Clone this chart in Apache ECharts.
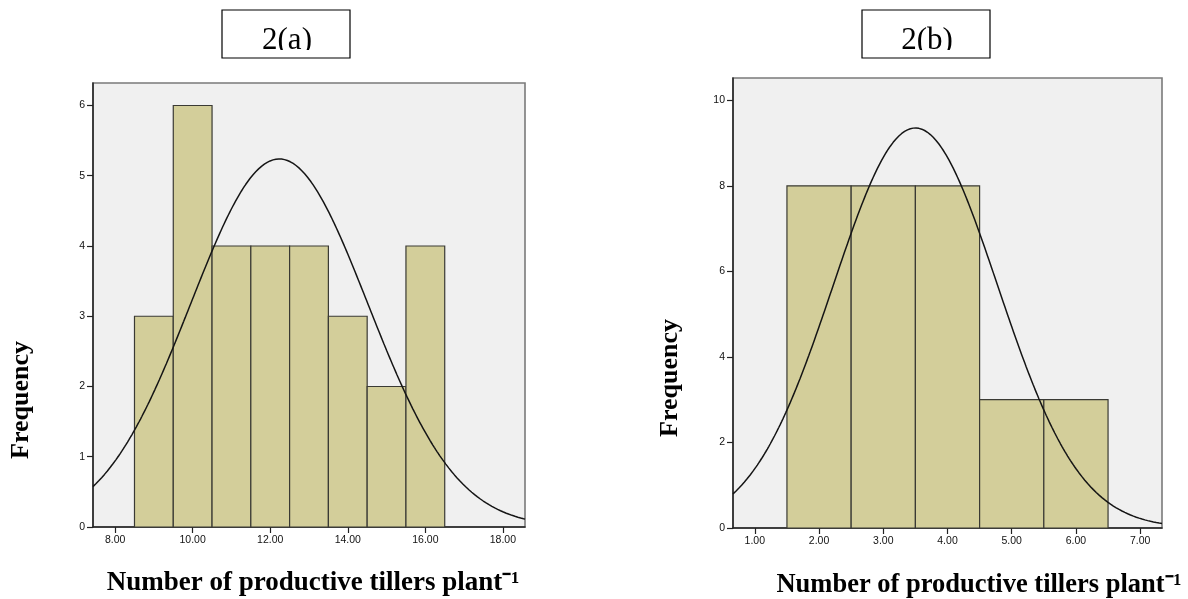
<!DOCTYPE html>
<html>
<head>
<meta charset="utf-8">
<script src="https://cdn.jsdelivr.net/npm/echarts@6/dist/echarts.min.js"></script>
<style>
  html, body { margin: 0; padding: 0; background: #ffffff; }
  #chart { width: 1188px; height: 599px; }
</style>
</head>
<body>
<div id="chart"></div>
<script>
// Histogram bins (centre of each unit-wide bin) and their frequencies
const binCentersA = [9, 10, 11, 12, 13, 14, 15, 16];
const countsA = [3, 6, 4, 4, 4, 3, 2, 4];
const binCentersB = [2, 3, 4, 5, 6];
const countsB = [8, 8, 8, 3, 3];
const binWidth = 1;

// Axis tick labels
const xTicksA = [8, 10, 12, 14, 16, 18];
const yTicksA = [0, 1, 2, 3, 4, 5, 6];
const xTicksB = [1, 2, 3, 4, 5, 6, 7];
const yTicksB = [0, 2, 4, 6, 8, 10];

// Panel captions and axis titles
const panelTitles = ['2(a)', '2(b)'];
const xTitle = 'Number of productive tillers plant\u207B\u00B9';
const yTitle = 'Frequency';

// Mean / SD / N of the binned data, used for the fitted normal curve
function stats(centers, counts) {
  let n = 0, s = 0;
  centers.forEach((c, i) => { n += counts[i]; s += c * counts[i]; });
  const mean = s / n;
  let ss = 0;
  centers.forEach((c, i) => { ss += counts[i] * (c - mean) * (c - mean); });
  return { n: n, mean: mean, sd: Math.sqrt(ss / (n - 1)) };
}
function normalCurve(st, lo, hi, steps) {
  const pts = [];
  for (let k = 0; k <= steps; k++) {
    const x = lo + (hi - lo) * k / steps;
    const z = (x - st.mean) / st.sd;
    const y = st.n * binWidth * Math.exp(-0.5 * z * z) / (st.sd * Math.sqrt(2 * Math.PI));
    pts.push([x, y]);
  }
  return pts;
}

const rangeA = [7.43, 18.57];
const rangeB = [0.66, 7.34];
const curveA = normalCurve(stats(binCentersA, countsA), rangeA[0], rangeA[1], 300);
const curveB = normalCurve(stats(binCentersB, countsB), rangeB[0], rangeB[1], 300);

const barFill = '#d3ce9a';
const barStroke = '#3a3a34';
const tickFont = { fontFamily: 'Liberation Sans, Arial, sans-serif', fontSize: 10.5, color: '#111' };

function histSeries(idx, centers, counts) {
  return {
    type: 'custom',
    xAxisIndex: idx,
    yAxisIndex: idx,
    data: centers.map((c, i) => [c - binWidth / 2, c + binWidth / 2, counts[i]]),
    renderItem: function (params, api) {
      const p0 = api.coord([api.value(0), api.value(2)]);
      const p1 = api.coord([api.value(1), 0]);
      return {
        type: 'rect',
        shape: { x: p0[0], y: p0[1], width: p1[0] - p0[0], height: p1[1] - p0[1] },
        style: { fill: barFill, stroke: barStroke, lineWidth: 1.2 }
      };
    },
    z: 2
  };
}

function xAxisCfg(idx, range, ticks) {
  return {
    type: 'value', gridIndex: idx, min: range[0], max: range[1],
    splitLine: { show: false },
    axisLine: { show: true, onZero: false, lineStyle: { color: '#222', width: 1.5 } },
    axisTick: { show: true, length: 6, customValues: ticks, lineStyle: { color: '#222', width: 1.2 } },
    axisLabel: Object.assign({ customValues: ticks, margin: 8, formatter: v => v.toFixed(2) }, tickFont)
  };
}
function yAxisCfg(idx, max, ticks) {
  return {
    type: 'value', gridIndex: idx, min: 0, max: max,
    splitLine: { show: false },
    axisLine: { show: true, onZero: false, lineStyle: { color: '#222', width: 1.5 } },
    axisTick: { show: true, length: 6, customValues: ticks, lineStyle: { color: '#222', width: 1.2 } },
    axisLabel: Object.assign({ customValues: ticks, margin: 8, formatter: v => String(v) }, tickFont)
  };
}

// Caption box; a white strip masks the caption just under its baseline
function titleBox(x, label) {
  return [
    { type: 'rect', shape: { x: x, y: 10, width: 128, height: 48 }, style: { fill: '#ffffff' }, z: 10 },
    { type: 'text', x: x + 65, y: 25.5, style: { text: label, font: '31px "Liberation Serif", "Times New Roman", serif', fill: '#000', align: 'center', verticalAlign: 'top' }, z: 11 },
    { type: 'rect', shape: { x: x + 1, y: 50, width: 126, height: 15 }, style: { fill: '#ffffff' }, z: 12 },
    { type: 'rect', shape: { x: x, y: 10, width: 128, height: 48 }, style: { fill: 'none', stroke: '#000', lineWidth: 1.2 }, z: 13 }
  ];
}
const serifBold = 'bold 26px "Liberation Serif", "Times New Roman", serif';
const serifBoldX = 'bold 27px "Liberation Serif", "Times New Roman", serif';
const serifBoldXb = 'bold 26.5px "Liberation Serif", "Times New Roman", serif';

const chart = echarts.init(document.getElementById('chart'), null, { renderer: 'canvas' });
chart.setOption({
  animation: false,
  backgroundColor: '#ffffff',
  grid: [
    { left: 93, top: 83, width: 432, height: 444, show: true, backgroundColor: '#f0f0f0', borderColor: '#7a7a7a', borderWidth: 1.6 },
    { left: 733, top: 78, width: 429, height: 450, show: true, backgroundColor: '#f0f0f0', borderColor: '#7a7a7a', borderWidth: 1.6 }
  ],
  xAxis: [xAxisCfg(0, rangeA, xTicksA), xAxisCfg(1, rangeB, xTicksB)],
  yAxis: [yAxisCfg(0, 6.32, yTicksA), yAxisCfg(1, 10.52, yTicksB)],
  series: [
    histSeries(0, binCentersA, countsA),
    histSeries(1, binCentersB, countsB),
    { type: 'line', xAxisIndex: 0, yAxisIndex: 0, data: curveA, showSymbol: false, smooth: false, clip: true,
      lineStyle: { color: '#151515', width: 1.5 }, z: 3, silent: true },
    { type: 'line', xAxisIndex: 1, yAxisIndex: 1, data: curveB, showSymbol: false, smooth: false, clip: true,
      lineStyle: { color: '#151515', width: 1.5 }, z: 3, silent: true }
  ],
  graphic: [].concat(
    titleBox(222, panelTitles[0]),
    titleBox(862, panelTitles[1]),
    [
      { type: 'text', x: 21, y: 400, rotation: Math.PI / 2, style: { text: yTitle, font: serifBold, fill: '#000', align: 'center', verticalAlign: 'middle' } },
      { type: 'text', x: 670, y: 378, rotation: Math.PI / 2, style: { text: yTitle, font: serifBold, fill: '#000', align: 'center', verticalAlign: 'middle' } },
      { type: 'text', x: 313, y: 583, style: { text: xTitle, font: serifBoldX, fill: '#000', align: 'center', verticalAlign: 'middle' } },
      { type: 'text', x: 979, y: 585, style: { text: xTitle, font: serifBoldXb, fill: '#000', align: 'center', verticalAlign: 'middle' } }
    ]
  )
});
</script>
</body>
</html>
